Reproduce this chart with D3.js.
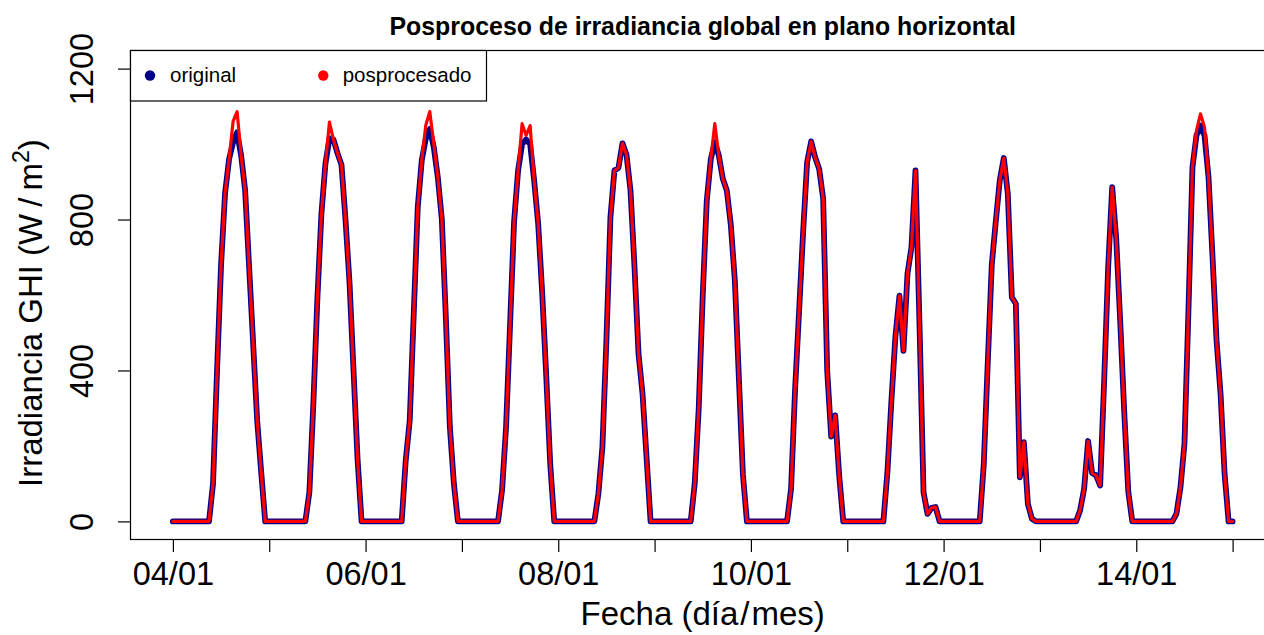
<!DOCTYPE html>
<html>
<head>
<meta charset="utf-8">
<script src="https://cdn.jsdelivr.net/npm/d3@7"></script>
<style>
  body { margin: 0; background: #ffffff; }
  svg { display: block; }
  text { font-family: "Liberation Sans", Arial, Helvetica, sans-serif; fill: #000; }
</style>
</head>
<body>
<svg id="chart" width="1264" height="635"></svg>
<script>
// ---------------- data ----------------
const dayLabels = ["04/01","05/01","06/01","07/01","08/01","09/01","10/01","11/01","12/01","13/01","14/01","15/01"];
const tickLabels = ["04/01","06/01","08/01","10/01","12/01","14/01"];
const yTicks = [0, 400, 800, 1200];
const seriesNames = ["original", "posprocesado"];
const seriesColors = ["#00008B", "#FF0000"];

// hourly GHI (W/m2), from 04/01 00:00 to 15/01 00:00
const original = [
  0,0,0,0,0,0,0,0,0,0,100,400,680,870,960,1005,1031,970,877,673,470,267,130,0,   // 04/01
  0,0,0,0,0,0,0,0,0,0,77,314,592,815,948,1015,1012,976,945,800,633,400,166,0,    // 05/01
  0,0,0,0,0,0,0,0,0,0,161,267,550,833,957,1014,1040,991,912,800,540,250,100,0,   // 06/01
  0,0,0,0,0,0,0,0,0,0,82,250,522,795,930,1000,1012,1000,903,789,606,388,152,0,   // 07/01
  0,0,0,0,0,0,0,0,0,0,73,197,480,806,930,937,1002,972,877,674,444,338,170,0,     // 08/01
  0,0,0,0,0,0,0,0,0,0,100,300,600,850,960,1005,970,908,877,785,638,380,125,0,    // 09/01
  0,0,0,0,0,0,0,0,0,0,86,349,557,766,952,1007,965,934,855,400,225,281,120,0,     // 10/01
  0,0,0,0,0,0,0,0,0,0,130,320,490,598,452,656,727,930,520,77,20,36,38,0,         // 11/01
  0,0,0,0,0,0,0,0,0,0,150,420,680,795,904,963,868,594,577,117,210,46,7,0,        // 12/01
  0,0,0,0,0,0,0,0,0,0,29,86,213,128,122,95,373,674,886,750,530,290,80,0,         // 13/01
  0,0,0,0,0,0,0,0,0,0,20,89,205,560,939,1023,1049,1023,912,700,479,338,126,0,    // 14/01
  0                                                                              // 15/01 00:00
];
const posprocesado = [
  0,0,0,0,0,0,0,0,0,0,100,400,680,870,960,1060,1086,970,877,673,470,267,130,0,   // 04/01
  0,0,0,0,0,0,0,0,0,0,77,314,592,815,948,1058,1012,976,945,800,633,400,166,0,    // 05/01
  0,0,0,0,0,0,0,0,0,0,161,267,550,833,957,1050,1086,1000,912,800,540,250,100,0,  // 06/01
  0,0,0,0,0,0,0,0,0,0,82,250,522,795,930,1054,1023,1049,903,789,606,388,152,0,   // 07/01
  0,0,0,0,0,0,0,0,0,0,73,197,480,806,930,937,1002,972,877,674,444,338,170,0,     // 08/01
  0,0,0,0,0,0,0,0,0,0,100,300,600,850,960,1054,970,908,877,785,638,380,125,0,    // 09/01
  0,0,0,0,0,0,0,0,0,0,86,349,557,766,952,1007,965,934,855,400,225,281,120,0,     // 10/01
  0,0,0,0,0,0,0,0,0,0,130,320,490,598,452,656,727,930,520,77,20,36,38,0,         // 11/01
  0,0,0,0,0,0,0,0,0,0,150,420,680,795,904,963,868,594,577,117,210,46,7,0,        // 12/01
  0,0,0,0,0,0,0,0,0,0,29,86,213,128,122,95,373,674,886,750,530,290,80,0,         // 13/01
  0,0,0,0,0,0,0,0,0,0,20,89,205,560,939,1036,1080,1045,912,700,479,338,126,0,    // 14/01
  0                                                                              // 15/01 00:00
];

// ---------------- layout ----------------
const svg = d3.select("#chart");
const plot = { left: 130.5, top: 50.5, right: 1275, bottom: 539.5 };

const t0 = Date.UTC(2021, 0, 4);
const HOUR = 3600 * 1000;
const tEnd = t0 + (original.length - 1) * HOUR;
const span = tEnd - t0;

const x = d3.scaleUtc()
  .domain([new Date(t0 - 0.04 * span), new Date(tEnd + 0.04 * span)])
  .range([plot.left, plot.right]);
const y = d3.scaleLinear()
  .domain([0 - 0.04 * 1200, 1200 + 0.04 * 1200])
  .range([plot.bottom, plot.top]);

const timeOf = i => new Date(t0 + i * HOUR);

// ---------------- lines ----------------
const line = d3.line()
  .x((d, i) => x(timeOf(i)))
  .y(d => y(d))
  .curve(d3.curveLinear);

svg.append("path")
  .datum(original)
  .attr("d", line)
  .attr("fill", "none")
  .attr("stroke", seriesColors[0])
  .attr("stroke-width", 5.8)
  .attr("stroke-linejoin", "round")
  .attr("stroke-linecap", "round");

svg.append("path")
  .datum(posprocesado)
  .attr("d", line)
  .attr("fill", "none")
  .attr("stroke", seriesColors[1])
  .attr("stroke-width", 3.2)
  .attr("stroke-linejoin", "round")
  .attr("stroke-linecap", "round");

// ---------------- box ----------------
svg.append("rect")
  .attr("x", plot.left).attr("y", plot.top)
  .attr("width", plot.right - plot.left).attr("height", plot.bottom - plot.top)
  .attr("fill", "none").attr("stroke", "#000").attr("stroke-width", 1.2);

// ---------------- axes ----------------
const dayDates = dayLabels.map((d, i) => new Date(t0 + i * 24 * HOUR));
const xAxis = d3.axisBottom(x)
  .tickValues(dayDates)
  .tickSize(12.5)
  .tickFormat((d, i) => tickLabels.includes(dayLabels[i]) ? dayLabels[i] : "");
const gx = svg.append("g")
  .attr("transform", `translate(0,${plot.bottom})`)
  .call(xAxis);
gx.select(".domain").remove();
gx.selectAll(".tick line").attr("stroke", "#000").attr("stroke-width", 1.2);
gx.selectAll(".tick text")
  .attr("y", 45).attr("dy", 0)
  .style("font-size", "32.5px");

const yAxis = d3.axisLeft(y).tickValues(yTicks).tickSize(12.5).tickFormat(d3.format("d"));
const gy = svg.append("g")
  .attr("transform", `translate(${plot.left},0)`)
  .call(yAxis);
gy.select(".domain").remove();
gy.selectAll(".tick line").attr("stroke", "#000").attr("stroke-width", 1.2);
gy.selectAll(".tick text")
  .attr("x", 0).attr("y", -38).attr("dy", 0)
  .attr("transform", "rotate(-90)")
  .attr("text-anchor", "middle")
  .style("font-size", "32.5px");
svg.selectAll(".tick text").attr("font-family", null).attr("font-size", null).attr("fill", "#000");

// ---------------- titles ----------------
const cx = (plot.left + plot.right) / 2;
svg.append("text")
  .attr("x", cx).attr("y", 35)
  .attr("text-anchor", "middle")
  .style("font-size", "24.9px").style("font-weight", "bold")
  .text("Posproceso de irradiancia global en plano horizontal");

const xl = svg.append("text")
  .attr("x", cx).attr("y", 625)
  .attr("text-anchor", "middle")
  .style("font-size", "33px");
xl.append("tspan").text("Fecha (día");
xl.append("tspan").attr("dx", 2).text("/");
xl.append("tspan").attr("dx", 2).text("mes)");

const yl = svg.append("text")
  .attr("transform", `translate(42,487) rotate(-90)`)
  .attr("text-anchor", "start")
  .style("font-size", "33px");
yl.append("tspan").text("Irradiancia GHI (W");
yl.append("tspan").attr("dx", 7).text("/");
yl.append("tspan").attr("dx", 7).text("m");
yl.append("tspan").attr("dy", -13).style("font-size", "23px").text("2");
yl.append("tspan").attr("dy", 13).text(")");

// ---------------- legend ----------------
const lg = svg.append("g");
lg.append("rect")
  .attr("x", plot.left).attr("y", plot.top)
  .attr("width", 486.5 - plot.left).attr("height", 101 - plot.top)
  .attr("fill", "#fff").attr("stroke", "#000").attr("stroke-width", 1.2);
const legX = [150, 323.3];
const legTX = [170, 342.7];
seriesNames.forEach((name, i) => {
  lg.append("circle").attr("cx", legX[i]).attr("cy", 75.5).attr("r", 5.2).attr("fill", seriesColors[i]);
  lg.append("text").attr("x", legTX[i]).attr("y", 82).style("font-size", "20.5px").text(name);
});
</script>
</body>
</html>
